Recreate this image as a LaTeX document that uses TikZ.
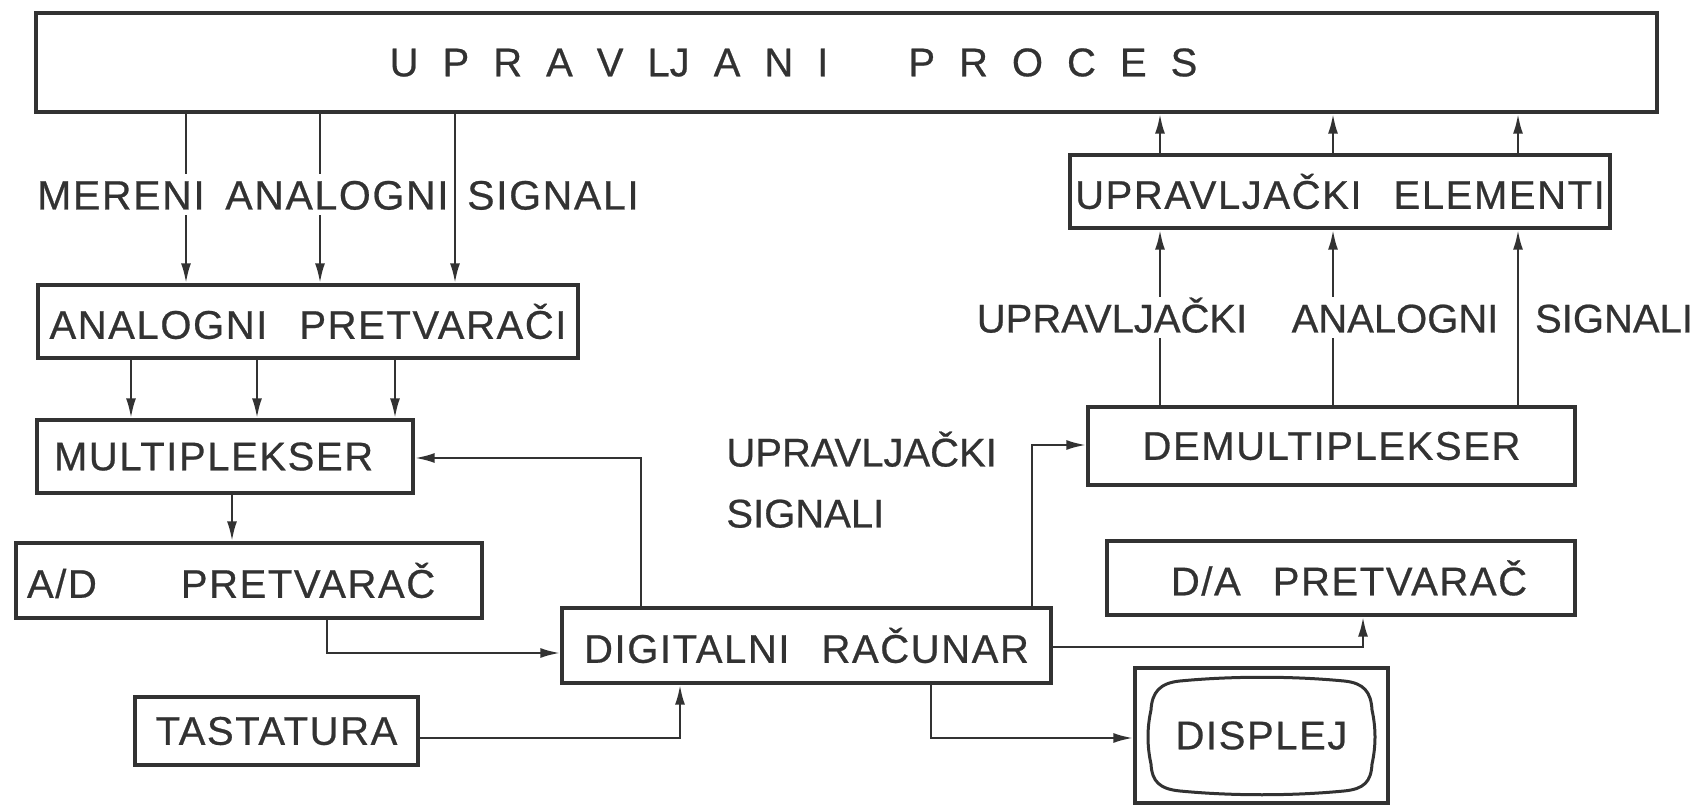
\documentclass[tikz,border=0pt]{standalone}
\usepackage{fontspec}
\setmainfont{Liberation Sans}[LetterSpace=4, FakeBold=0.6]
\newfontfamily\plainfont{Liberation Sans}[FakeBold=0.6]
\usetikzlibrary{arrows.meta}
\definecolor{ink}{RGB}{50,50,50}
\newcommand\lgap{\hspace{12pt}}
\newcommand\wgap{\hspace{16pt}}
\begin{document}
\begin{tikzpicture}[x=0.5pt,y=-0.5pt,
  box/.style={draw=ink, line width=1.7pt, inner sep=0pt, text=ink,
    font=\fontsize{20}{24}\selectfont},
  arr/.style={draw=ink, line width=1.3pt, -{Latex[length=10pt,width=5pt]}},
  lbl/.style={fill=white, inner xsep=1pt, inner ysep=3pt, text=ink,
    text height=14.5pt, text depth=0pt, font=\fontsize{20.5}{24}\selectfont},
  rlbl/.style={lbl, font=\plainfont\fontsize{20}{24}\selectfont},
  screen/.style={draw=ink, line width=1.5pt}]
\useasboundingbox[fill=white] (0,0) rectangle (1697,806);

% boxes
\node[box, minimum width=810.5pt, minimum height=49.5pt] (top) at (846.5,62.5)
  {\plainfont U\lgap P\lgap R\lgap A\lgap V\lgap LJ\lgap A\lgap N\lgap I\hspace{40pt}P\lgap R\lgap O\lgap C\lgap E\lgap S\hspace*{53pt}\null};
\node[box, minimum width=270pt, minimum height=36.5pt] (apc) at (308,321.5)
  {ANALOGNI\wgap PRETVARAČI};
\node[box, text width=171pt, inner xsep=8.5pt, minimum height=36.5pt, align=left] (mux) at (225,456.5)
  {MULTIPLEKSER};
\node[box, text width=222pt, inner xsep=5.5pt, minimum height=37.5pt, align=left] (ad) at (249,580.5)
  {A/D\hspace{42pt}PRETVARAČ};
\node[box, minimum width=244.5pt, minimum height=37.5pt] (dr) at (806.5,645.5)
  {DIGITALNI\wgap RAČUNAR};
\node[box, minimum width=141.5pt, minimum height=34pt] (tast) at (276.5,731)
  {TASTATURA};
\node[box, minimum width=270pt, minimum height=36.5pt] (ue) at (1340,191.5)
  {UPRAVLJAČKI\wgap ELEMENTI};
\node[box, minimum width=243.5pt, minimum height=39pt] (demux) at (1331.5,446)
  {DEMULTIPLEKSER};
\node[box, minimum width=234pt, minimum height=37pt] (da) at (1341,578)
  {D/A\wgap PRETVARAČ\hspace*{-8pt}\null};
\node[box, minimum width=126.5pt, minimum height=67.5pt] (disp) at (1261.5,735.5)
  {DISPLEJ};

% display screen outline
\draw[screen] (1180,681) .. controls (1232,676) and (1292,676) .. (1344,681)
  .. controls (1364,683) and (1371,692) .. (1372,710)
  .. controls (1376,728) and (1376,746) .. (1372,764)
  .. controls (1371,782) and (1364,789) .. (1344,791)
  .. controls (1292,796) and (1232,796) .. (1180,791)
  .. controls (1160,789) and (1152,782) .. (1151,764)
  .. controls (1147,746) and (1147,728) .. (1151,710)
  .. controls (1152,692) and (1160,683) .. (1180,681) -- cycle;

% helper coordinates
\coordinate (m1) at (186,0);
\coordinate (m2) at (320,0);
\coordinate (m3) at (455,0);
\coordinate (a1) at (131,0);
\coordinate (a2) at (257,0);
\coordinate (a3) at (395,0);
\coordinate (mx) at (232,0);
\coordinate (adx) at (327,653);
\coordinate (drm) at (641,458);
\coordinate (tk) at (680,738);
\coordinate (dd) at (1032,445);
\coordinate (dax) at (1363,647);
\coordinate (dsp) at (931,738);
\coordinate (u1) at (1160,0);
\coordinate (u2) at (1333,0);
\coordinate (u3) at (1518,0);

% connectors
\foreach \c in {m1,m2,m3}
  \draw[arr] (top.south -| \c) -- (apc.north -| \c);
\foreach \c in {a1,a2,a3}
  \draw[arr] (apc.south -| \c) -- (mux.north -| \c);
\draw[arr] (mux.south -| mx) -- (ad.north -| mx);
\draw[arr] (ad.south -| adx) -- (adx) -- (dr.west |- adx);
\draw[arr] (dr.north -| drm) -- (drm) -- (mux.east |- drm);
\draw[arr] (tast.east |- tk) -- (tk) -- (dr.south -| tk);
\draw[arr] (dr.north -| dd) -- (dd) -- (demux.west |- dd);
\draw[arr] (dr.east |- dax) -- (dax) -- (da.south -| dax);
\draw[arr] (dr.south -| dsp) -- (dsp) -- (disp.west |- dsp);
\foreach \c in {u1,u2,u3}{
  \draw[arr] (ue.north -| \c) -- (top.south -| \c);
  \draw[arr] (demux.north -| \c) -- (ue.south -| \c);
}

% labels
\node[lbl] (l1) at (121,195) {MERENI};
\node[lbl] (l2) at (337,195) {ANALOGNI};
\node[lbl] (l3) at (553,195) {SIGNALI};
\node[rlbl] (r1) at (1112,318) {UPRAVLJAČKI};
\node[rlbl] (r2) at (1395,318) {ANALOGNI};
\node[rlbl] (r3) at (1614,318) {SIGNALI};
\node[rlbl, anchor=west, fill=none] (us1) at (724,452) {UPRAVLJAČKI};
\node[rlbl, anchor=west, fill=none] (us2) at (724,513) {SIGNALI};
\end{tikzpicture}
\end{document}
